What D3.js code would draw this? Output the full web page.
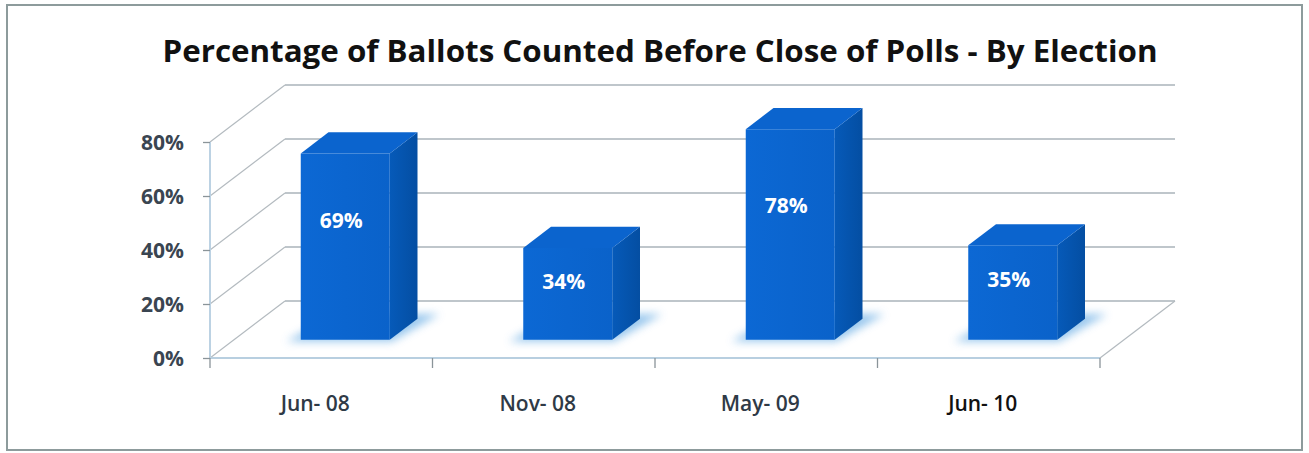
<!DOCTYPE html>
<html>
<head>
<meta charset="utf-8">
<script src="https://cdn.jsdelivr.net/npm/d3@7"></script>
<style>
  html, body { margin: 0; padding: 0; background: #fff; }
  svg { display: block; }
</style>
</head>
<body>
<svg id="chart" width="1309" height="453"></svg>
<script>
// Election periods and share of ballots counted before polls closed (%)
const categories = ["Jun- 08", "Nov- 08", "May- 09", "Jun- 10"];
const values = [69, 34, 78, 35];
const yTicks = [0, 20, 40, 60, 80];
const title = "Percentage of Ballots Counted Before Close of Polls - By Election";

const svg = d3.select("#chart");

// Oblique 3D projection: the front plane is drawn with x/y scales,
// depth d in [0,1] shifts a point by (depthDX*d, depthDY*d).
const depthDX = 75, depthDY = -57;
const x = d3.scaleBand().domain(categories).range([210, 1100]).paddingInner(0).paddingOuter(0);
const y = d3.scaleLinear().domain([0, 80]).range([358, 142]);
const P = (px, py, d) => [px + depthDX * d, py + depthDY * d];

// Outer frame
svg.append("rect")
  .attr("x", 7).attr("y", 5).attr("width", 1295).attr("height", 445)
  .attr("fill", "#fff").attr("stroke", "#8d9b9c").attr("stroke-width", 2);

// Title
svg.append("text")
  .attr("x", 660).attr("y", 62)
  .attr("text-anchor", "middle")
  .attr("font-family", "'Open Sans', 'DejaVu Sans', sans-serif")
  .attr("font-weight", 700)
  .attr("font-size", 31)
  .attr("fill", "#111")
  .attr("textLength", 995)
  .attr("lengthAdjust", "spacingAndGlyphs")
  .text(title);

const defs = svg.append("defs");
defs.append("filter").attr("id", "soft")
  .attr("x", "-30%").attr("y", "-100%").attr("width", "160%").attr("height", "300%")
  .append("feGaussianBlur").attr("stdDeviation", 4);

const frontGrad = defs.append("linearGradient").attr("id", "frontGrad")
  .attr("x1", "0").attr("x2", "1").attr("y1", "0").attr("y2", "0");
frontGrad.append("stop").attr("offset", "0").attr("stop-color", "#0c68d4");
frontGrad.append("stop").attr("offset", "1").attr("stop-color", "#0a62ca");

const sideGrad = defs.append("linearGradient").attr("id", "sideGrad")
  .attr("x1", "0").attr("x2", "1").attr("y1", "0").attr("y2", "0");
sideGrad.append("stop").attr("offset", "0").attr("stop-color", "#065ab9");
sideGrad.append("stop").attr("offset", "1").attr("stop-color", "#044ea2");

const grid = svg.append("g").attr("fill", "none");
const x0 = x.range()[0], x1 = x.range()[1];

// Back wall gridlines and left wall diagonals
yTicks.forEach(t => {
  const a = P(x0, y(t), 1), b = P(x1, y(t), 1), f = P(x0, y(t), 0);
  grid.append("line")
    .attr("x1", a[0]).attr("y1", a[1]).attr("x2", b[0]).attr("y2", b[1])
    .attr("stroke", "#aab3ba").attr("stroke-width", 1.6);
  grid.append("line")
    .attr("x1", f[0]).attr("y1", f[1]).attr("x2", a[0]).attr("y2", a[1])
    .attr("stroke", "#b3babf").attr("stroke-width", 1.2);
});

// Floor right edge
{
  const a = P(x1, y(0), 0), b = P(x1, y(0), 1);
  grid.append("line")
    .attr("x1", a[0]).attr("y1", a[1]).attr("x2", b[0]).attr("y2", b[1])
    .attr("stroke", "#b3babf").attr("stroke-width", 1.2);
}

// Front floor edge and vertical axis line
grid.append("line")
  .attr("x1", x0).attr("y1", y(0)).attr("x2", x1).attr("y2", y(0))
  .attr("stroke", "#b8cfe0").attr("stroke-width", 2.2);
grid.append("line")
  .attr("x1", x0).attr("y1", y(0)).attr("x2", x0).attr("y2", y(80))
  .attr("stroke", "#bcd2e3").attr("stroke-width", 2);

// Y axis with percentage labels
const yAxis = svg.append("g")
  .attr("transform", `translate(${x0},0)`)
  .call(d3.axisLeft(y).tickValues(yTicks).tickSize(7).tickPadding(19).tickFormat(d => d + "%"));
yAxis.select(".domain").remove();
yAxis.selectAll(".tick line").attr("stroke", "#8a9499").attr("stroke-width", 1.3);
yAxis.selectAll(".tick text")
  .attr("font-family", "'Open Sans', 'DejaVu Sans', sans-serif")
  .attr("font-weight", 700)
  .attr("font-size", 21)
  .attr("fill", "#3a4551")
  .attr("dy", "0.38em");

// Category boundary ticks on the front floor edge
const bounds = categories.map(c => x(c)).concat([x1]);
svg.append("g").selectAll("line").data(bounds).join("line")
  .attr("x1", d => d).attr("x2", d => d)
  .attr("y1", y(0)).attr("y2", y(0) + 10)
  .attr("stroke", "#8a9499").attr("stroke-width", 1.3);

// Category labels
svg.append("g").selectAll("text").data(categories).join("text")
  .attr("x", d => x(d) + x.bandwidth() / 2 - 6)
  .attr("y", 411)
  .attr("text-anchor", "middle")
  .attr("font-family", "'Open Sans', 'DejaVu Sans', sans-serif")
  .attr("font-weight", 600)
  .attr("font-size", 21)
  .attr("fill", d => d === "Jun- 10" ? "#111" : "#2f3a46")
  .text(d => d);

// 3D columns
const d0 = 0.32, d1 = 0.69;
const barW = x.bandwidth() * 0.4;
const poly = pts => "M" + pts.map(p => p.join(",")).join("L") + "Z";

const bars = svg.append("g").selectAll("g").data(categories.map((c, i) => ({ c, v: values[i] }))).join("g");

bars.each(function (d) {
  const g = d3.select(this);
  const cx = x(d.c) + x.bandwidth() / 2 - barW / 2;
  const L = cx, R = cx + barW;
  const yb = y(0), yt = y(d.v);

  // soft reflection on the floor around the footprint
  g.append("path")
    .attr("d", poly([P(L - 12, yb, d0 - 0.03), P(R + 4, yb, d0 - 0.03), P(R + 16, yb, d1 + 0.08), P(L, yb, d1 + 0.08)]))
    .attr("fill", "#86bdea").attr("opacity", 0.85).attr("filter", "url(#soft)");

  // side face
  g.append("path")
    .attr("d", poly([P(R, yb, d0), P(R, yb, d1), P(R, yt, d1), P(R, yt, d0)]))
    .attr("fill", "url(#sideGrad)");
  // top face
  g.append("path")
    .attr("d", poly([P(L, yt, d0), P(R, yt, d0), P(R, yt, d1), P(L, yt, d1)]))
    .attr("fill", "#0b64ce");
  // front face
  g.append("path")
    .attr("d", poly([P(L, yb, d0), P(R, yb, d0), P(R, yt, d0), P(L, yt, d0)]))
    .attr("fill", "url(#frontGrad)");

  // value label on the front face
  const lp = P((L + R) / 2, y(d.v * 0.64), d0);
  g.append("text")
    .attr("x", lp[0] - 4).attr("y", lp[1])
    .attr("dy", "0.36em")
    .attr("text-anchor", "middle")
    .attr("font-family", "'Open Sans', 'DejaVu Sans', sans-serif")
    .attr("font-weight", 700)
    .attr("font-size", 21)
    .attr("fill", "#ffffff")
    .text(d.v + "%");
});
</script>
</body>
</html>
